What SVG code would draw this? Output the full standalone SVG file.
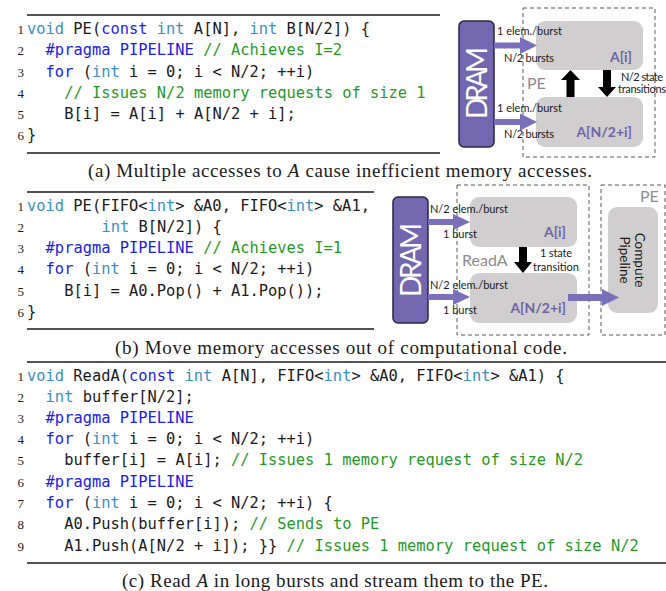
<svg xmlns="http://www.w3.org/2000/svg" width="666" height="591" viewBox="0 0 666 591">
<style>
.code{font-family:"DejaVu Sans Mono","Liberation Mono",monospace;font-size:15.4px;fill:#1a1a1a}
.k{fill:#3a8fc0}.b{fill:#1c1ce6}.g{fill:#1f9a1f}
.ln{font-family:"Liberation Serif",serif;font-size:13px;fill:#1a1a1a;text-anchor:end}
.cap{font-family:"Liberation Serif",serif;font-size:19px;fill:#1a1a1a}
.rule{stroke:#1a1a1a;stroke-width:1.3}
.dram{fill:#7367b0;stroke:#2a2540;stroke-width:1.5}
.dramt{font-family:Lato,"Liberation Sans",sans-serif;font-size:28px;fill:#ffffff;text-anchor:middle}
.box{fill:#d0cece}
.dash{fill:none;stroke:#595959;stroke-width:1;stroke-dasharray:4 3}
.lbl{font-family:Lato,"Liberation Sans",sans-serif;font-size:11px;fill:#1a1a1a}
.var{font-family:Lato,"Liberation Sans",sans-serif;font-size:14px;font-weight:bold;fill:#6e63a8;text-anchor:end}
.gray{font-family:Lato,"Liberation Sans",sans-serif;font-size:16px;fill:#8c8c8c}
.pa{fill:#7a6fba}
.ba{fill:#000000}
.rot{font-family:Lato,"Liberation Sans",sans-serif;font-size:13.5px;fill:#1a1a1a;text-anchor:middle}
</style>

<!-- ===== Panel (a) code ===== -->
<g id="code-a">
<line class="rule" x1="27" y1="15" x2="440" y2="15"/>
<text class="ln" x="24" y="34">1</text>
<text class="ln" x="24" y="55">2</text>
<text class="ln" x="24" y="77">3</text>
<text class="ln" x="24" y="98">4</text>
<text class="ln" x="24" y="119">5</text>
<text class="ln" x="24" y="140">6</text>
<text class="code" x="27" y="34" xml:space="preserve"><tspan class="k">void</tspan> PE(<tspan class="b">const</tspan> <tspan class="k">int</tspan> A[N], <tspan class="k">int</tspan> B[N/2]) {</text>
<text class="code" x="45.6" y="55" xml:space="preserve"><tspan class="b">#pragma PIPELINE</tspan><tspan class="g"> // Achieves I=2</tspan></text>
<text class="code" x="45.6" y="77" xml:space="preserve"><tspan class="b">for</tspan> (<tspan class="k">int</tspan> i = 0; i &lt; N/2; ++i)</text>
<text class="code" x="64.2" y="98" xml:space="preserve"><tspan class="g">// Issues N/2 memory requests of size 1</tspan></text>
<text class="code" x="64.2" y="119" xml:space="preserve">B[i] = A[i] + A[N/2 + i];</text>
<text class="code" x="27" y="140">}</text>
<line class="rule" x1="27" y1="153" x2="440" y2="153"/>
</g>
<text class="cap" x="88" y="177" textLength="504" xml:space="preserve">(a) Multiple accesses to <tspan font-style="italic">A</tspan> cause inefficient memory accesses.</text>

<!-- ===== Panel (a) diagram ===== -->
<g id="pe-a">
<rect class="dash" x="523" y="8" width="132" height="149"/>
<text class="gray" x="527" y="89">PE</text>
</g>
<g id="dram-a">
<rect class="dram" x="459" y="21" width="35" height="126" rx="5"/>
<text class="dramt" transform="translate(487,83) rotate(-90)" textLength="72">DRAM</text>
</g>
<g id="ai-a">
<rect class="box" x="536" y="21" width="107" height="49" rx="9"/>
<text class="var" x="632" y="62">A[i]</text>
</g>
<g id="ani-a">
<rect class="box" x="536" y="97" width="107" height="50" rx="9"/>
<text class="var" x="632" y="137">A[N/2+i]</text>
</g>
<g id="connectors-a">
<rect class="pa" x="494" y="42.5" width="28" height="6"/>
<polygon class="pa" points="520,37 537,45.5 520,54"/>
<rect class="pa" x="494" y="119" width="28" height="6"/>
<polygon class="pa" points="520,113.5 537,122 520,130.5"/>
<rect class="ba" x="566.5" y="79" width="8" height="18"/>
<polygon class="ba" points="561,80 570.5,70 580,80"/>
<rect class="ba" x="603" y="70" width="8" height="18"/>
<polygon class="ba" points="598,87 616,87 607,97"/>
<text class="lbl" x="497" y="35" textLength="65">1 elem./burst</text>
<text class="lbl" x="504" y="62" textLength="50">N/2 bursts</text>
<text class="lbl" x="497" y="112" textLength="65">1 elem./burst</text>
<text class="lbl" x="504" y="138" textLength="50">N/2 bursts</text>
<text class="lbl" x="621" y="81" textLength="42">N/2 state</text>
<text class="lbl" x="618" y="93" textLength="48">transitions</text>
</g>

<!-- ===== Panel (b) code ===== -->
<g id="code-b">
<line class="rule" x1="27" y1="192" x2="374" y2="192"/>
<text class="ln" x="24" y="211">1</text>
<text class="ln" x="24" y="232">2</text>
<text class="ln" x="24" y="253">3</text>
<text class="ln" x="24" y="274">4</text>
<text class="ln" x="24" y="296">5</text>
<text class="ln" x="24" y="317">6</text>
<text class="code" x="27" y="211" xml:space="preserve"><tspan class="k">void</tspan> PE(FIFO&lt;<tspan class="k">int</tspan>&gt; &amp;A0, FIFO&lt;<tspan class="k">int</tspan>&gt; &amp;A1,</text>
<text class="code" x="101.4" y="232" xml:space="preserve"><tspan class="k">int</tspan> B[N/2]) {</text>
<text class="code" x="45.6" y="253" xml:space="preserve"><tspan class="b">#pragma PIPELINE</tspan><tspan class="g"> // Achieves I=1</tspan></text>
<text class="code" x="45.6" y="274" xml:space="preserve"><tspan class="b">for</tspan> (<tspan class="k">int</tspan> i = 0; i &lt; N/2; ++i)</text>
<text class="code" x="64.2" y="296" xml:space="preserve">B[i] = A0.Pop() + A1.Pop());</text>
<text class="code" x="27" y="317">}</text>
<line class="rule" x1="27" y1="329" x2="374" y2="329"/>
</g>
<text class="cap" x="115" y="354" textLength="452" xml:space="preserve">(b) Move memory accesses out of computational code.</text>

<!-- ===== Panel (b) diagram ===== -->
<g id="reada-b">
<rect class="dash" x="457" y="185" width="132" height="150"/>
<text class="gray" x="462" y="266">ReadA</text>
</g>
<g id="pe-b">
<rect class="dash" x="601" y="185" width="64" height="150"/>
<text class="gray" x="640" y="202">PE</text>
</g>
<g id="dram-b">
<rect class="dram" x="393" y="197" width="35" height="126" rx="5"/>
<text class="dramt" transform="translate(421,260) rotate(-90)" textLength="74">DRAM</text>
</g>
<g id="ai-b">
<rect class="box" x="470" y="197" width="107" height="50" rx="9"/>
<text class="var" x="566" y="237">A[i]</text>
</g>
<g id="ani-b">
<rect class="box" x="470" y="273" width="107" height="50" rx="9"/>
<text class="var" x="566" y="313">A[N/2+i]</text>
</g>
<g id="compute-b">
<rect class="box" x="608" y="207" width="50" height="106" rx="9"/>
<text class="rot" transform="translate(635,260) rotate(90)">Compute</text>
<text class="rot" transform="translate(619.5,260) rotate(90)">Pipeline</text>
</g>
<g id="connectors-b">
<rect class="pa" x="428" y="219" width="27" height="6"/>
<polygon class="pa" points="453,214 470,222 453,230"/>
<rect class="pa" x="428" y="294" width="27" height="6"/>
<polygon class="pa" points="453,289 470,297 453,305"/>
<rect class="pa" x="568" y="294" width="36" height="7"/>
<polygon class="pa" points="602,289 619,297.5 602,306"/>
<rect class="ba" x="519" y="247" width="8" height="16"/>
<polygon class="ba" points="514,262 532,262 523,273"/>
<text class="lbl" x="430" y="213" textLength="78">N/2 elem./burst</text>
<text class="lbl" x="443" y="238" textLength="34">1 burst</text>
<text class="lbl" x="430" y="289" textLength="78">N/2 elem./burst</text>
<text class="lbl" x="443" y="314" textLength="34">1 burst</text>
<text class="lbl" x="540" y="257" textLength="32">1 state</text>
<text class="lbl" x="533" y="271" textLength="46">transition</text>
</g>

<!-- ===== Panel (c) code ===== -->
<g id="code-c">
<line class="rule" x1="27" y1="362" x2="666" y2="362"/>
<text class="ln" x="24" y="381">1</text>
<text class="ln" x="24" y="402">2</text>
<text class="ln" x="24" y="423">3</text>
<text class="ln" x="24" y="444">4</text>
<text class="ln" x="24" y="465">5</text>
<text class="ln" x="24" y="487">6</text>
<text class="ln" x="24" y="508">7</text>
<text class="ln" x="24" y="529">8</text>
<text class="ln" x="24" y="551">9</text>
<text class="code" x="27" y="381" xml:space="preserve"><tspan class="k">void</tspan> ReadA(<tspan class="b">const</tspan> <tspan class="k">int</tspan> A[N], FIFO&lt;<tspan class="k">int</tspan>&gt; &amp;A0, FIFO&lt;<tspan class="k">int</tspan>&gt; &amp;A1) {</text>
<text class="code" x="45.6" y="402" xml:space="preserve"><tspan class="k">int</tspan> buffer[N/2];</text>
<text class="code" x="45.6" y="423" xml:space="preserve"><tspan class="b">#pragma PIPELINE</tspan></text>
<text class="code" x="45.6" y="444" xml:space="preserve"><tspan class="b">for</tspan> (<tspan class="k">int</tspan> i = 0; i &lt; N/2; ++i)</text>
<text class="code" x="64.2" y="465" xml:space="preserve">buffer[i] = A[i]; <tspan class="g">// Issues 1 memory request of size N/2</tspan></text>
<text class="code" x="45.6" y="487" xml:space="preserve"><tspan class="b">#pragma PIPELINE</tspan></text>
<text class="code" x="45.6" y="508" xml:space="preserve"><tspan class="b">for</tspan> (<tspan class="k">int</tspan> i = 0; i &lt; N/2; ++i) {</text>
<text class="code" x="64.2" y="529" xml:space="preserve">A0.Push(buffer[i]); <tspan class="g">// Sends to PE</tspan></text>
<text class="code" x="64.2" y="551" xml:space="preserve">A1.Push(A[N/2 + i]); }} <tspan class="g">// Issues 1 memory request of size N/2</tspan></text>
<line class="rule" x1="27" y1="563" x2="666" y2="563"/>
</g>
<text class="cap" x="122" y="587" textLength="426" xml:space="preserve">(c) Read <tspan font-style="italic">A</tspan> in long bursts and stream them to the PE.</text>
</svg>
